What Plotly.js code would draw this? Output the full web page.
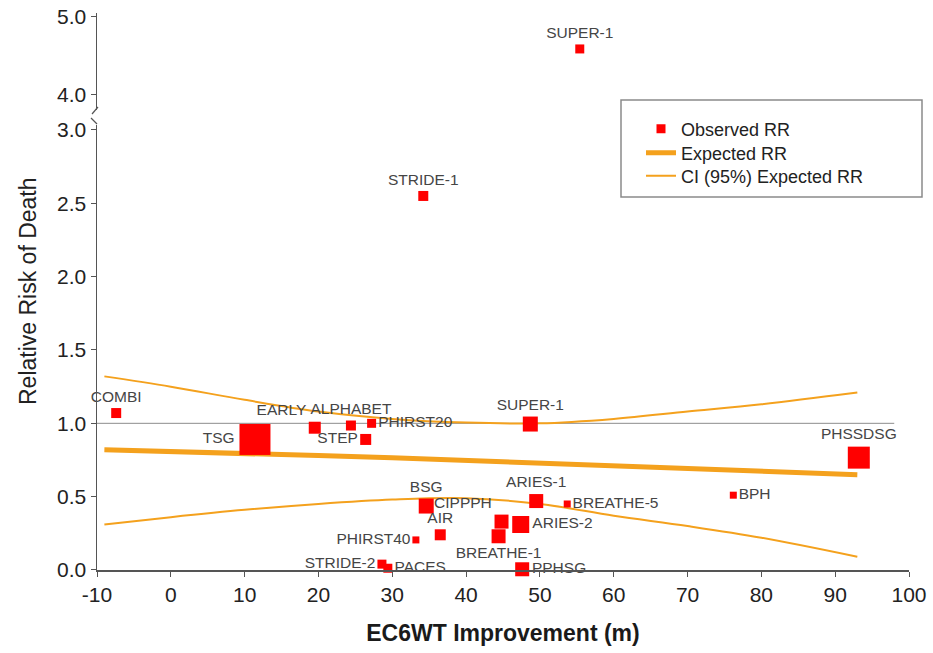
<!DOCTYPE html>
<html>
<head>
<meta charset="utf-8">
<script src="https://cdn.plot.ly/plotly-3.0.1.min.js"></script>
<style>html,body{margin:0;padding:0;background:#fff;}#chart{width:933px;height:653px;}</style>
</head>
<body>
<div id="chart"></div>
<script>
// ---- Data ----
const trialNames = ["COMBI","TSG","EARLY","ALPHABET","PHIRST20","STEP","SUPER-1","STRIDE-1","BSG","ARIES-1","BREATHE-5","CIPPPH","ARIES-2","BREATHE-1","AIR","PHIRST40","STRIDE-2","PACES","PPHSG","PHSSDSG","BPH"];
const improvement = [-7.4, 11.4, 19.5, 24.4, 27.2, 26.4, 48.7, 34.2, 34.6, 49.5, 53.7, 44.8, 47.4, 44.4, 36.5, 33.2, 28.6, 29.4, 47.6, 93.2, 76.2];
const relRisk     = [1.07, 0.89, 0.97, 0.985, 1.0, 0.89, 0.995, 2.55, 0.436, 0.47, 0.45, 0.33, 0.31, 0.23, 0.24, 0.205, 0.04, 0.012, 0.005, 0.766, 0.51];
const trialWeight = [10, 31, 12, 10, 9, 11, 15, 10, 15, 14, 7, 14, 17, 14, 11, 7, 9, 9, 14, 22, 7];
const labelPos = ["top center","middle left","top left","top center","middle right","middle left","top center","top center","top center","top center","middle right","top left","middle right","bottom center","top center","middle left","middle left","middle right","middle right","top center","middle right"];

// off-scale trial (upper panel)
const outlierName = ["SUPER-1"];
const outlierImprovement = [55.4];
const outlierRR = [4.59];
const outlierWeight = [9];

// expected RR and its 95% CI
const fitX = [-9, 0, 10, 20, 30, 40, 50, 60, 70, 80, 93];
const expectedRR = [0.82, 0.81, 0.795, 0.78, 0.765, 0.748, 0.73, 0.713, 0.695, 0.678, 0.65];
const ciUpper = [1.32, 1.25, 1.16, 1.08, 1.03, 1.005, 1.0, 1.03, 1.08, 1.13, 1.21];
const ciLower = [0.31, 0.36, 0.41, 0.45, 0.48, 0.49, 0.45, 0.37, 0.30, 0.22, 0.09];

// reference line RR = 1
const refX = [-10, 98];
const refY = [1, 1];

// axis ticks
const xTickVals = [-10, 0, 10, 20, 30, 40, 50, 60, 70, 80, 90, 100];
const xTickText = ["-10", "0", "10", "20", "30", "40", "50", "60", "70", "80", "90", "100"];
const yLowerTicks = [0, 0.5, 1, 1.5, 2, 2.5, 3];
const yUpperTicks = [4, 5];

// ---- Styles ----
const red = "#ff0000";
const orange = "#f4a11d";
const fontFam = "Liberation Sans, Arial, Helvetica, sans-serif";
const labelFont = {family: fontFam, size: 15.5, color: "#454545"};

const traces = [
  {x: refX, y: refY, mode: "lines", line: {color: "#8c8c8c", width: 1}, showlegend: false, hoverinfo: "skip", xaxis: "x", yaxis: "y"},
  {x: fitX, y: expectedRR, mode: "lines", line: {color: orange, width: 5}, name: "Expected RR", legend: "legend2", xaxis: "x", yaxis: "y"},
  {x: fitX, y: ciUpper, mode: "lines", line: {color: orange, width: 2, shape: "spline"}, name: "CI (95%) Expected RR", legend: "legend3", legendgroup: "ci", xaxis: "x", yaxis: "y"},
  {x: fitX, y: ciLower, mode: "lines", line: {color: orange, width: 2, shape: "spline"}, name: "CI (95%) Expected RR", legend: "legend3", legendgroup: "ci", showlegend: false, xaxis: "x", yaxis: "y"},
  {x: outlierImprovement, y: outlierRR, text: outlierName, mode: "markers+text", textposition: "top center",
   textfont: labelFont, cliponaxis: false,
   marker: {symbol: "square", size: outlierWeight, color: red, opacity: 1, line: {width: 0}},
   name: "Observed RR", legend: "legend", xaxis: "x", yaxis: "y2"},
  {x: improvement, y: relRisk, text: trialNames, mode: "markers+text", textposition: labelPos,
   textfont: labelFont, cliponaxis: false,
   marker: {symbol: "square", size: trialWeight, color: red, opacity: 1, line: {width: 0}},
   name: "Observed RR", showlegend: false, xaxis: "x", yaxis: "y"}
];

const px = v => (v - 97) / 812;
const py = v => (570 - v) / 557;

const axisCommon = {
  showline: true, linecolor: "#555", linewidth: 1.5, ticks: "outside", ticklen: 5, tickcolor: "#555",
  showgrid: false, zeroline: false, tickfont: {family: fontFam, size: 21, color: "#222"}
};

const legendCommon = {xanchor: "left", yanchor: "middle", bgcolor: "rgba(0,0,0,0)", borderwidth: 0,
  font: {family: fontFam, size: 18, color: "#222"}, itemwidth: 30};

const layout = {
  width: 933, height: 653,
  margin: {l: 97, r: 24, t: 13, b: 83},
  paper_bgcolor: "#fff", plot_bgcolor: "#fff",
  font: {family: fontFam},
  showlegend: true,
  legend:  Object.assign({}, legendCommon, {x: px(641), y: py(129)}),
  legend2: Object.assign({}, legendCommon, {x: px(641), y: py(153)}),
  legend3: Object.assign({}, legendCommon, {x: px(641), y: py(176)}),
  xaxis: Object.assign({}, axisCommon, {range: [-10, 100], tickvals: xTickVals, ticktext: xTickText, anchor: "y",
    title: {text: "<b>EC6WT Improvement (m)</b>", font: {family: fontFam, size: 23, color: "#1a1a1a"}, standoff: 20}}),
  yaxis: Object.assign({}, axisCommon, {domain: [0, 0.799], range: [0, 3.034], tickvals: yLowerTicks, tickformat: ".1f", anchor: "x"}),
  yaxis2: Object.assign({}, axisCommon, {domain: [0.826, 1], range: [3.808, 5.051], tickvals: yUpperTicks, tickformat: ".1f", anchor: "x"}),
  annotations: [
    {text: "Relative Risk of Death", xref: "paper", yref: "paper", x: px(28), y: py(291), textangle: -90,
     showarrow: false, font: {family: fontFam, size: 23, color: "#222"}, xanchor: "center", yanchor: "middle"}
  ],
  shapes: [
    {type: "rect", xref: "paper", yref: "paper", x0: px(621), x1: px(922), y0: py(197), y1: py(100),
     line: {color: "#8a8a8a", width: 1.5}, fillcolor: "rgba(0,0,0,0)"},
    {type: "line", xref: "paper", yref: "paper", x0: px(92), y0: py(114), x1: px(98), y1: py(107), line: {color: "#555", width: 1.2}},
    {type: "line", xref: "paper", yref: "paper", x0: px(91), y0: py(118), x1: px(97), y1: py(124), line: {color: "#555", width: 1.2}}
  ]
};

Plotly.newPlot("chart", traces, layout, {displayModeBar: false, staticPlot: true});
</script>
</body>
</html>
